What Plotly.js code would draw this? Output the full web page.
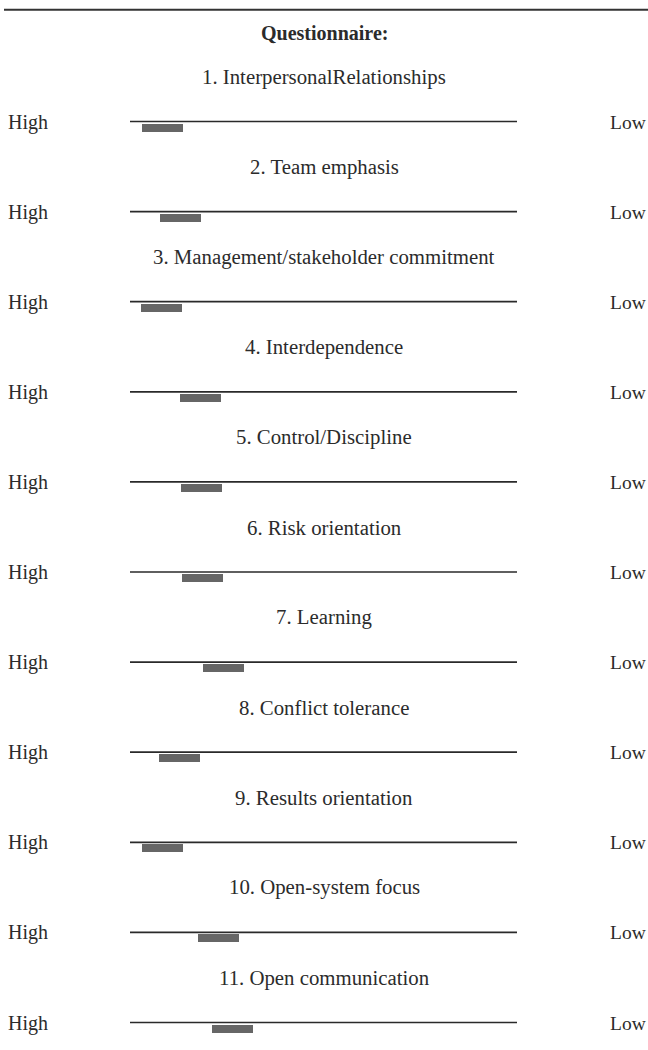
<!DOCTYPE html>
<html>
<head>
<meta charset="utf-8">
<script src="https://cdn.plot.ly/plotly-3.0.1.min.js"></script>
<style>
  html, body { margin: 0; padding: 0; background: #ffffff; }
  #chart { width: 648px; height: 1050px; }
</style>
</head>
<body>
<div id="chart"></div>
<script>
// ---- Data ----
const heading = "Questionnaire:";
const items = [
  "1. InterpersonalRelationships",
  "2. Team emphasis",
  "3. Management/stakeholder commitment",
  "4. Interdependence",
  "5. Control/Discipline",
  "6. Risk orientation",
  "7. Learning",
  "8. Conflict tolerance",
  "9. Results orientation",
  "10. Open-system focus",
  "11. Open communication"
];
// Bar start on a 0 (High) .. 100 (Low) scale
const barStart = [3.1, 7.7, 2.8, 12.9, 13.2, 13.4, 18.9, 7.5, 3.1, 17.6, 21.2];
// Bar length on the same scale
const barLength = [10.6, 10.6, 10.6, 10.6, 10.6, 10.6, 10.6, 10.6, 10.6, 10.6, 10.6];
const leftLabel = "High";
const rightLabel = "Low";
const scaleMin = 0, scaleMax = 100;

// ---- Layout geometry ----
const W = 648, H = 1050;
const lineLeftPx = 130, lineRightPx = 517;
const pxPerUnit = (lineRightPx - lineLeftPx) / (scaleMax - scaleMin);
const xRange = [scaleMin - lineLeftPx / pxPerUnit, scaleMin + (W - lineLeftPx) / pxPerUnit];
const row0Px = 121.5, rowStepPx = 90.1;
const yRange = [(H - row0Px) / rowStepPx, -row0Px / rowStepPx];
const barOffset = 6 / rowStepPx;      // bar sits just below the line
const barThick = 8 / rowStepPx;
const titleOffset = -45 / rowStepPx;

const font = "'Liberation Serif', 'Times New Roman', serif";
const textColor = "#2b2b2b";

const idx = items.map((_, i) => i);

const traces = [{
  type: "bar",
  orientation: "h",
  y: idx.map(i => i + barOffset),
  x: barLength,
  base: barStart,
  width: barThick,
  marker: { color: "#666666", line: { width: 0 } },
  hoverinfo: "skip",
  showlegend: false
}];

const shapes = [{
  type: "line", xref: "paper", yref: "paper",
  x0: 4 / W, x1: 1, y0: 1 - 9.8 / H, y1: 1 - 9.8 / H,
  line: { color: "#333333", width: 2 }
}];
idx.forEach(i => {
  shapes.push({
    type: "line", xref: "x", yref: "y",
    x0: scaleMin, x1: scaleMax, y0: i, y1: i,
    line: { color: "#2a2a2a", width: 1.7 },
    layer: "below"
  });
});

const annotations = [{
  xref: "paper", yref: "paper", x: 0.5, y: 1 - 32.5 / H,
  text: "<b>" + heading + "</b>", showarrow: false,
  xanchor: "center", yanchor: "middle",
  font: { family: font, size: 20, color: textColor }
}];
idx.forEach(i => {
  annotations.push({
    xref: "paper", yref: "y", x: 0.5, y: i + titleOffset,
    text: items[i], showarrow: false, xanchor: "center", yanchor: "middle",
    font: { family: font, size: 20.8, color: textColor }
  });
  annotations.push({
    xref: "paper", yref: "y", x: 8 / W, y: i + 0.5 / rowStepPx,
    text: leftLabel, showarrow: false, xanchor: "left", yanchor: "middle",
    xshift: -2,
    font: { family: font, size: 20, color: textColor }
  });
  annotations.push({
    xref: "paper", yref: "y", x: 1, y: i + 0.5 / rowStepPx,
    text: rightLabel, showarrow: false, xanchor: "right", yanchor: "middle",
    xshift: 0,
    font: { family: font, size: 19.5, color: textColor }
  });
});

const layout = {
  width: W, height: H,
  margin: { l: 0, r: 0, t: 0, b: 0, pad: 0 },
  paper_bgcolor: "#ffffff", plot_bgcolor: "#ffffff",
  xaxis: { range: xRange, visible: false, fixedrange: true },
  yaxis: { range: yRange, visible: false, fixedrange: true },
  shapes: shapes,
  annotations: annotations,
  showlegend: false,
  bargap: 0
};

Plotly.newPlot("chart", traces, layout, { displayModeBar: false, staticPlot: true });
</script>
</body>
</html>
